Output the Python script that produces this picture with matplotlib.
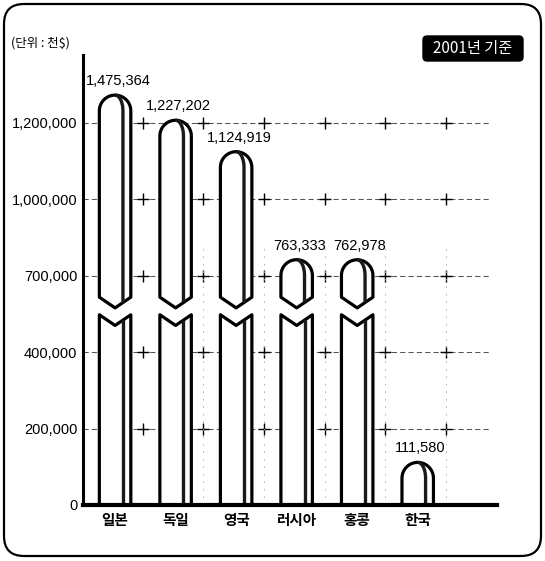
import numpy as np
import matplotlib.pyplot as plt
from matplotlib.path import Path
from matplotlib.patches import PathPatch, FancyBboxPatch

countries = ['일본', '독일', '영국', '러시아', '홍콩', '한국']
amounts = [1475364, 1227202, 1124919, 763333, 762978, 111580]
tick_vals = [0, 200000, 400000, 700000, 1000000, 1200000]
tick_labels = ['0', '200,000', '400,000', '700,000', '1,000,000', '1,200,000']

# broken axis: ticks are evenly spaced, the part above 1.2M is squeezed
knot_vals = tick_vals + [2000000]
knot_pos = [0, 1, 2, 3, 4, 5, 6.06]


def to_pos(v):
    return np.interp(v, knot_vals, knot_pos)


def from_pos(p):
    return np.interp(p, knot_pos, knot_vals)


plt.rcParams['font.family'] = ['Liberation Sans', 'Noto Sans CJK KR']
KR = ['Noto Sans CJK KR', 'DejaVu Sans']

W, H = 545, 561
fig = plt.figure(figsize=(W / 100, H / 100), dpi=100)

# background layer in pixel units for the frame and the captions
bg = fig.add_axes([0, 0, 1, 1], zorder=0)
bg.set_xlim(0, W)
bg.set_ylim(H, 0)
bg.axis('off')
bg.add_patch(FancyBboxPatch((4, 4), 537, 552, boxstyle='round,pad=0,rounding_size=20',
                            fc='white', ec='black', lw=1.6))
bg.text(11, 43, '(단위 : 천$)', family=KR, fontsize=9, va='center', ha='left')
bg.add_patch(FancyBboxPatch((423, 36), 100, 25, boxstyle='round,pad=0,rounding_size=4',
                            fc='black', ec='black', lw=1))
bg.text(473, 48.5, '2001년 기준', family=KR, fontsize=11, color='white',
        va='center', ha='center')

ax_l, ax_r, ax_t, ax_b = 83, 497, 55, 505
ax = fig.add_axes([ax_l / W, 1 - ax_b / H, (ax_r - ax_l) / W, (ax_b - ax_t) / H], zorder=1)
ax.patch.set_alpha(0)
ax.set_yscale('function', functions=(to_pos, from_pos))
xlo, xhi = -0.53, 6.31
pos_top = 5.89
ax.set_xlim(xlo, xhi)
ax.set_ylim(0, from_pos(pos_top))

# pixels per unit, used to keep the bar caps round
px_x = (ax_r - ax_l) / (xhi - xlo)
px_y = (ax_b - ax_t) / pos_top

bar_w = 0.52
rx = bar_w / 2
rp = rx * px_x / px_y
brk_hi, brk_lo, notch = 2.72, 2.49, 0.14

# grid with cross marks between the bars
xs = np.arange(len(countries))
for tv in tick_vals[1:]:
    ax.axhline(tv, xmin=0, xmax=0.98, ls=(0, (5, 3)), color='#555555', lw=0.75, zorder=1)
    ax.plot(xs + 0.46, [tv] * len(xs), '+', ms=8, mew=1, color='black', zorder=1)
for xv in xs[1:] + 0.46:
    ax.plot([xv, xv], [0, from_pos(3.4)], ls=(0, (2, 7)), color='#aaaaaa', lw=0.6, zorder=1)


def cap(xc, top, n=30):
    t = np.linspace(np.pi, 0, n)
    return list(zip(xc + rx * np.cos(t), top - rp + rp * np.sin(t)))


def draw(pts, closed):
    pts = [(x, from_pos(p)) for x, p in pts]
    codes = [Path.MOVETO] + [Path.LINETO] * (len(pts) - 1)
    if closed:
        pts.append(pts[0])
        codes.append(Path.CLOSEPOLY)
    ax.add_patch(PathPatch(Path(pts, codes), fc='white', ec='black', lw=2.3,
                           joinstyle='round', zorder=3))


def stripe(xc, p0, p1, top=None):
    sx = xc + 0.5 * rx
    pts = [(sx, p0), (sx, p1)]
    if top is not None:
        t = np.linspace(0, np.pi / 2, 15)
        pts += list(zip(xc + 0.5 * rx * np.cos(t), top - rp + rp * np.sin(t)))
    x, p = zip(*pts)
    ax.plot(x, from_pos(np.array(p)), color='#1a1a1a', lw=2.4, zorder=4,
            solid_capstyle='butt')


for xc, val in zip(xs, amounts):
    top = to_pos(val)
    if top > brk_hi + rp:
        upper = [(xc - rx, brk_hi)] + cap(xc, top) + [(xc + rx, brk_hi), (xc, brk_hi - notch)]
        draw(upper, True)
        lower = [(xc - rx, 0), (xc - rx, brk_lo), (xc, brk_lo - notch),
                 (xc + rx, brk_lo), (xc + rx, 0)]
        draw(lower, False)
        stripe(xc, brk_hi - notch / 2, top - rp, top)
        stripe(xc, 0, brk_lo - notch / 2)
    else:
        single = [(xc - rx, 0)] + cap(xc, top) + [(xc + rx, 0)]
        draw(single, False)
        stripe(xc, 0, top - rp, top)
    ax.annotate(f'{val:,}', (xc, val), xytext=(2, 5), textcoords='offset points',
                ha='center', va='bottom', fontsize=10.5, zorder=5)

ax.set_yticks(tick_vals, tick_labels)
ax.set_xticks(xs, countries)
ax.tick_params(axis='y', length=0, pad=4, labelsize=10.5)
ax.tick_params(axis='x', length=0, pad=5)
for lab in ax.get_xticklabels():
    lab.set_family(KR)
    lab.set_fontsize(10.5)
    lab.set_fontweight('bold')

for s in ['top', 'right']:
    ax.spines[s].set_visible(False)
ax.spines['left'].set_linewidth(2.2)
ax.spines['bottom'].set_linewidth(3)
ax.spines['bottom'].set_zorder(6)

fig.savefig('out.png', dpi=100)
